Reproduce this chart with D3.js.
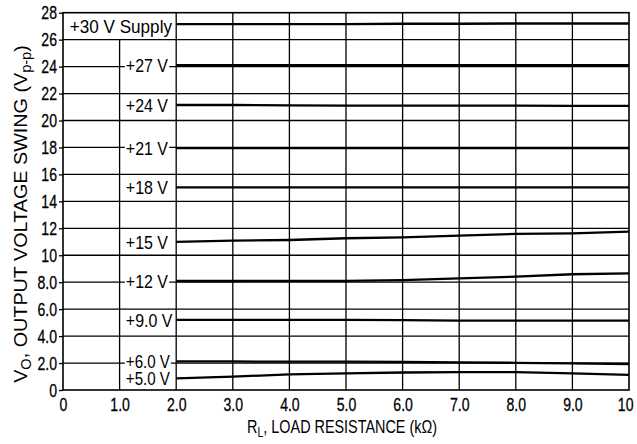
<!DOCTYPE html>
<html>
<head>
<meta charset="utf-8">
<script src="https://cdn.jsdelivr.net/npm/d3@7"></script>
<style>
  html, body { margin: 0; padding: 0; background: #fff; }
  svg { display: block; }
  text { font-family: "Liberation Sans", Arial, sans-serif; fill: #000; }
</style>
</head>
<body>
<svg id="chart" width="637" height="444"></svg>
<script>
// ---- data ----
const loadRes = [2, 3, 4, 5, 6, 7, 8, 9, 10];          // R_L, kΩ
const supplyLabels = ["+30 V Supply", "+27 V", "+24 V", "+21 V", "+18 V", "+15 V", "+12 V", "+9.0 V", "+6.0 V", "+5.0 V"];
const swing30 = [27.15, 27.15, 27.15, 27.15, 27.18, 27.18, 27.2, 27.2, 27.2];
const swing27 = [24.1, 24.1, 24.1, 24.1, 24.1, 24.1, 24.1, 24.1, 24.1];
const swing24 = [21.15, 21.15, 21.12, 21.1, 21.1, 21.1, 21.1, 21.08, 21.08];
const swing21 = [17.95, 17.95, 17.95, 17.95, 17.95, 17.95, 17.95, 17.95, 17.95];
const swing18 = [15.04, 15.04, 15.04, 15.04, 15.04, 15.04, 15.04, 15.04, 15.04];
const swing15 = [11.0, 11.08, 11.13, 11.26, 11.33, 11.46, 11.58, 11.63, 11.75];
const swing12 = [8.09, 8.09, 8.1, 8.1, 8.16, 8.29, 8.41, 8.59, 8.66];
const swing9  = [5.2, 5.2, 5.2, 5.2, 5.18, 5.15, 5.15, 5.15, 5.15];
const swing6  = [2.13, 2.12, 2.1, 2.1, 2.08, 2.05, 2.02, 1.98, 1.93];
const swing5  = [0.87, 0.99, 1.16, 1.24, 1.3, 1.33, 1.32, 1.24, 1.12];
const seriesValues = [swing30, swing27, swing24, swing21, swing18, swing15, swing12, swing9, swing6, swing5];
const xTickValues = [0, 1, 2, 3, 4, 5, 6, 7, 8, 9, 10];
const xTickLabels = ["0", "1.0", "2.0", "3.0", "4.0", "5.0", "6.0", "7.0", "8.0", "9.0", "10"];
const yTickValues = [0, 2, 4, 6, 8, 10, 12, 14, 16, 18, 20, 22, 24, 26, 28];
const yTickLabels = ["0", "2.0", "4.0", "6.0", "8.0", "10", "12", "14", "16", "18", "20", "22", "24", "26", "28"];

// ---- layout ----
const svg = d3.select("#chart");
const mLeft = 63, mRight = 629, mTop = 12.7, mBottom = 390;
const x = d3.scaleLinear().domain([0, 10]).range([mLeft, mRight]);
const y = d3.scaleLinear().domain([0, 28]).range([mBottom, mTop]);

// condense simple text horizontally (reference uses a condensed face)
function squish(sel, f) {
  sel.each(function () {
    const L = this.getComputedTextLength();
    d3.select(this).attr("textLength", L * f).attr("lengthAdjust", "spacingAndGlyphs");
  });
}

const g = svg.append("g");

// horizontal gridlines (every even value)
g.selectAll("line.hgrid").data(yTickValues.filter(v => v > 0 && v < 28)).join("line")
  .attr("class", "hgrid")
  .attr("x1", x(0)).attr("x2", x(10))
  .attr("y1", d => y(d)).attr("y2", d => y(d))
  .attr("stroke", "#000").attr("stroke-width", 1.3);

// vertical gridlines
g.selectAll("line.vgrid").data(xTickValues.filter(v => v > 0 && v < 10)).join("line")
  .attr("class", "vgrid")
  .attr("x1", d => x(d)).attr("x2", d => x(d))
  .attr("y1", d => d === 1 ? y(26) : y(28)).attr("y2", y(0))
  .attr("stroke", "#000").attr("stroke-width", 1.3);

// frame
g.append("rect")
  .attr("x", x(0)).attr("y", y(28))
  .attr("width", x(10) - x(0)).attr("height", y(0) - y(28))
  .attr("fill", "none").attr("stroke", "#000").attr("stroke-width", 1.6);

// curves
const line = d3.line().x((d, i) => x(loadRes[i])).y(d => y(d));
g.selectAll("path.curve").data(seriesValues).join("path")
  .attr("class", "curve")
  .attr("d", d => line(d))
  .attr("fill", "none").attr("stroke", "#000").attr("stroke-width", 2.3);

// labels
const labelG = g.append("g");
supplyLabels.forEach((lab, i) => {
  const isTop = i === 0;
  const lx = isTop ? x(0.12) : x(1.11);
  const ly = isTop ? y(27) : y(seriesValues[i][0]);
  const t = labelG.append("text")
    .attr("x", lx).attr("y", ly)
    .attr("dy", "0.36em")
    .attr("font-size", i >= 8 ? 18 : 19)
    .text(lab);
  squish(t, isTop ? 0.9 : 0.84);
  if (!isTop) {
    const bb = t.node().getBBox();
    labelG.insert("rect", "text")
      .attr("x", bb.x - 1).attr("y", ly - 7)
      .attr("width", bb.width + 2).attr("height", 14)
      .attr("fill", "#fff");
  }
});

// y axis ticks + labels
const yAxis = d3.axisLeft(y).tickValues(yTickValues)
  .tickFormat((d, i) => yTickLabels[i]).tickSize(4).tickSizeOuter(0).tickPadding(2);
const ya = svg.append("g").attr("transform", `translate(${mLeft},0)`).call(yAxis);
ya.select(".domain").remove();
ya.selectAll("line").attr("stroke", "#000").attr("stroke-width", 1.3);
ya.selectAll("text").attr("font-size", 19).attr("font-family", null)
  .attr("stroke", "#000").attr("stroke-width", 0.3);
squish(ya.selectAll("text"), 0.74);

// x axis labels
const xAxis = d3.axisBottom(x).tickValues(xTickValues)
  .tickFormat((d, i) => xTickLabels[i]).tickSize(0).tickPadding(8);
const xa = svg.append("g").attr("transform", `translate(0,${mBottom})`).call(xAxis);
xa.select(".domain").remove();
xa.selectAll("text").attr("font-size", 19).attr("font-family", null)
  .attr("stroke", "#000").attr("stroke-width", 0.3);
squish(xa.selectAll("text"), 0.74);
xa.selectAll("text").filter((d, i) => i === xTickValues.length - 1)
  .attr("text-anchor", "end").attr("x", 4);

// axis titles (condensed by a horizontal scale on their own group)
function titleText(parent, parts) {
  const t = parent.append("text").attr("text-anchor", "middle").attr("font-size", 19);
  parts.forEach(p => {
    const ts = t.append("tspan").text(p.s);
    if (p.sub) ts.attr("font-size", 14).attr("dy", 4);
    else if (p.after) ts.attr("dy", -4);
  });
  return t;
}
const xtG = svg.append("g");
const xt = titleText(xtG, [{ s: "R" }, { s: "L", sub: true }, { s: ", LOAD RESISTANCE (kΩ)", after: true }]);
const xtL = xt.node().getComputedTextLength();
xtG.attr("transform", `translate(342,433) scale(${190 / xtL},1)`);

const ytG = svg.append("g");
const yt = titleText(ytG, [{ s: "V" }, { s: "O", sub: true }, { s: ", OUTPUT VOLTAGE SWING (V", after: true },
  { s: "p-p", sub: true }, { s: ")", after: true }]);
const ytL = yt.node().getComputedTextLength();
ytG.attr("transform", `translate(27,214) rotate(-90) scale(${338 / ytL},1)`);
</script>
</body>
</html>
